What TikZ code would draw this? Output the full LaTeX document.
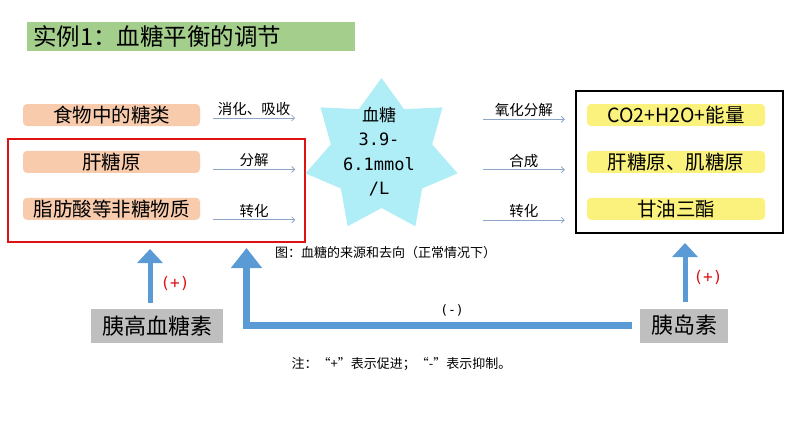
\documentclass[tikz,border=0pt]{standalone}
\usepackage{fontspec}
\setmainfont{Noto Sans CJK SC}
\newfontfamily\monofam{DejaVu Sans Mono}
\usepackage{tikz}
\usetikzlibrary{shapes.geometric}
\usetikzlibrary{positioning}
\usetikzlibrary{arrows.meta}
\definecolor{titlegreen}{RGB}{163,206,140}
\definecolor{salmon}{RGB}{248,203,173}
\definecolor{lemon}{RGB}{251,241,125}
\definecolor{skyfill}{RGB}{175,237,247}
\definecolor{hormgray}{RGB}{191,191,191}
\definecolor{flowblue}{RGB}{91,155,213}
\definecolor{thinblue}{RGB}{141,166,200}
\definecolor{framered}{RGB}{222,18,18}
\newcommand{\TitleFont}{\fontsize{23.5}{26}\selectfont}
\newcommand{\BoxFont}{\fontsize{19.5}{21}\selectfont}
\newcommand{\LabelFont}{\fontsize{14.5}{16}\selectfont}
\newcommand{\StarFont}{\fontsize{17}{24.5}\selectfont}
\newcommand{\HormFont}{\fontsize{22}{24}\selectfont}
\newcommand{\NoteFont}{\fontsize{13}{15}\selectfont}
\tikzstyle{srcbox}=[fill=salmon,rounded corners=4pt,minimum width=177pt,minimum height=22pt,inner sep=0pt,font=\BoxFont]
\tikzstyle{dstbox}=[fill=lemon,rounded corners=4pt,minimum width=178pt,minimum height=22pt,inner sep=0pt,font=\BoxFont]
\tikzstyle{hormone}=[fill=hormgray,minimum height=34pt,inner sep=0pt,font=\HormFont]
\tikzstyle{sugarstar}=[star,star points=7,star point ratio=1.5,minimum size=156pt,inner sep=0pt,fill=skyfill]

\begin{document}
\begin{tikzpicture}
	[x=1pt,y=-1pt,node distance=24.5pt]
	\tikzstyle{flow}=[draw=thinblue,line width=0.8pt,-{Straight Barb[length=3pt,width=6pt]}];
	\tikzstyle{flowlabel}=[above=1pt,inner sep=1pt,font=\LabelFont];
	\tikzstyle{blockarrow}=[draw=flowblue,line width=5pt,-{Triangle[width=25pt,length=14pt]}];
	\tikzstyle{sign}=[text=framered,font={\monofam\fontsize{16}{18}\selectfont}];
	\useasboundingbox (0,0) rectangle (794,447);

	\node (title) [fill=titlegreen,anchor=north west,minimum width=328pt,minimum height=29pt,text width=316pt,align=left,inner xsep=6pt,inner ysep=0pt,font=\TitleFont] at (27,22) {实例1：血糖平衡的调节};

	\node (food) [srcbox] at (111.5,115) {食物中的糖类};
	\node (liver) [srcbox,below=of food] {肝糖原};
	\node (fat) [srcbox,below=of liver] {脂肪酸等非糖物质};
	\node (srcframe) [draw=framered,line width=2pt,minimum width=297pt,minimum height=103pt] at (156.5,190.5) {};

	\node (star) [sugarstar] at (381.5,156) {};
	\node (sugar) [align=center,font=\StarFont] at (379,151.5) {血糖\\{\monofam 3.9-}\\{\monofam 6.1mmol}\\{\monofam /L}};

	\node (co2) [dstbox] at (676,115) {CO2+H2O+能量};
	\node (glyc) [dstbox,below=of co2] {肝糖原、肌糖原};
	\node (tg) [dstbox,below=of glyc] {甘油三酯};
	\node (dstframe) [draw,line width=2pt,minimum width=207pt,minimum height=142pt] at (679.5,162) {};

	\node (caption) [font=\NoteFont] at (385.5,253) {图：血糖的来源和去向（正常情况下）};

	\node (gcg) [hormone,minimum width=132pt] at (157,326) {胰高血糖素};
	\node (ins) [hormone,minimum width=88pt] at (684,325.5) {胰岛素};
	\node (plusL) [sign] at (175,283) {(+)};
	\node (plusR) [sign] at (708,277) {(+)};
	\node (minus) [font={\monofam\fontsize{13}{15}\selectfont}] at (452,310) {(-)};
	\node (note) [font=\NoteFont] at (401.5,364) {注：“+”表示促进；“-”表示抑制。};

	\coordinate (gtip) at (150,249);
	\coordinate (itip) at (685,243);
	\coordinate (ftip) at (246.5,248);

	\draw[flow] ([shift={(13pt,-3pt)}]food.east) -- node[flowlabel] {消化、吸收} ([shift={(95pt,-3pt)}]food.east);
	\draw[flow] ([shift={(13pt,-7.5pt)}]liver.east) -- node[flowlabel] {分解} ([shift={(95pt,-7.5pt)}]liver.east);
	\draw[flow] ([shift={(13pt,-11pt)}]fat.east) -- node[flowlabel] {转化} ([shift={(95pt,-11pt)}]fat.east);
	\draw[flow] ([shift={(-104pt,-4.3pt)}]co2.west) -- node[flowlabel] {氧化分解} ([shift={(-22pt,-4.3pt)}]co2.west);
	\draw[flow] ([shift={(-104pt,-7.8pt)}]glyc.west) -- node[flowlabel] {合成} ([shift={(-22pt,-7.8pt)}]glyc.west);
	\draw[flow] ([shift={(-104pt,-11.3pt)}]tg.west) -- node[flowlabel] {转化} ([shift={(-22pt,-11.3pt)}]tg.west);

	\draw[blockarrow] ([xshift=-7pt,yshift=6pt]gcg.north) -- (gtip);
	\draw[blockarrow] ([xshift=1pt,yshift=6pt]ins.north) -- (itip);
	\draw[blockarrow,line width=6.5pt,-{Triangle[width=30pt,length=20pt]}] ([xshift=-8pt]ins.west) -| (ftip);
\end{tikzpicture}
\end{document}
